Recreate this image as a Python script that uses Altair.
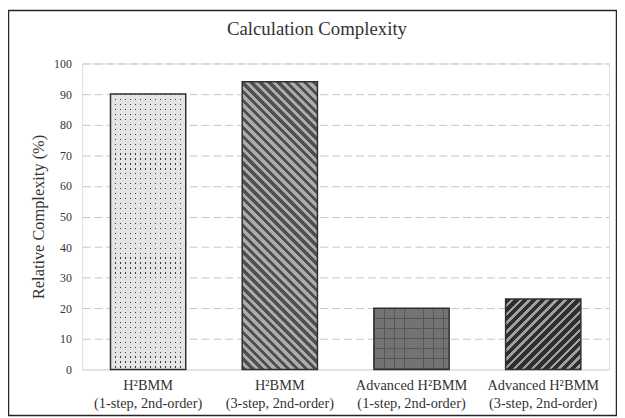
import altair as alt
import pandas as pd

# ---- data ----
title_text = "Calculation Complexity"
categories = [
    "H²BMM\n(1-step, 2nd-order)",
    "H²BMM\n(3-step, 2nd-order)",
    "Advanced H²BMM\n(1-step, 2nd-order)",
    "Advanced H²BMM\n(3-step, 2nd-order)",
]
values = [90, 94, 20, 23]
y_ticks = list(range(0, 101, 10))

# ---- layout ----
W, H = 532, 309
BAR = 76
SERIF = "Liberation Serif"

df = pd.DataFrame({"idx": list(range(len(categories))), "cat": categories, "val": values})


def stops_for(segments, span):
    stops = []
    pos = 0.0
    while pos < span:
        for color, wid in segments:
            a = min(pos / span, 1.0)
            b = min((pos + wid) / span, 1.0)
            stops.append({"offset": round(a, 5), "color": color})
            stops.append({"offset": round(b, 5), "color": color})
            pos += wid
    return stops


def diag_grad(segments, w, h, direction):
    k = (w + h) / (w * w + h * h)
    if direction == "back":  # "\" stripes
        x1, y1, x2, y2 = 0, 1, w * k, 1 - h * k
    else:  # "/" stripes
        x1, y1, x2, y2 = 0, 0, w * k, h * k
    return {"gradient": "linear", "x1": x1, "y1": y1, "x2": x2, "y2": y2,
            "stops": stops_for(segments, w + h)}


def horiz_grad(segments, w):  # varies along x -> vertical lines
    return {"gradient": "linear", "x1": 0, "y1": 0, "x2": 1, "y2": 0,
            "stops": stops_for(segments, w)}


def vert_grad(segments, h):  # varies along y -> horizontal lines
    return {"gradient": "linear", "x1": 0, "y1": 0, "x2": 0, "y2": 1,
            "stops": stops_for(segments, h)}


T = "rgba(0,0,0,0)"
heights = [v / 100 * H for v in values]

base = alt.Chart(df).encode(
    x=alt.X("cat:N", sort=categories,
            scale=alt.Scale(domain=categories, paddingInner=0, paddingOuter=0),
            axis=alt.Axis(title=None, labelAngle=0, ticks=False, grid=False,
                          domainColor="#d9d9d9", domainWidth=1,
                          labelExpr="split(datum.label, '\\n')",
                          labelFont=SERIF, labelFontSize=14.5, labelLineHeight=18,
                          labelColor="#333333", labelPadding=9)),
    y=alt.Y("val:Q", scale=alt.Scale(domain=[0, 100]),
            axis=alt.Axis(title="Relative Complexity (%)", values=y_ticks,
                          ticks=False, domain=False, grid=True,
                          gridColor="#c4c4c4", gridDash=[8, 4], gridWidth=1,
                          gridOpacity={"condition": {"test": "datum.value === 0", "value": 0}, "value": 1},
                          labelFont=SERIF, labelFontSize=12, labelColor="#333333",
                          labelPadding=11,
                          titleFont=SERIF, titleFontSize=16.5, titleFontWeight="normal",
                          titleColor="#333333", titleX=-44, titleY=H / 2,
                          titleAngle=-90, titleAlign="center", titleBaseline="middle")),
)


def one(i):
    return base.transform_filter(alt.datum.idx == i)


layers = []

# bar 1: dotted light gray
layers.append(one(0).mark_bar(size=BAR, fill="#e4e4e4"))
layers.append(one(0).mark_bar(size=BAR, fill=horiz_grad([("#3a3a3a", 1), (T, 4)], BAR)))
layers.append(one(0).mark_bar(size=BAR, fill=vert_grad([(T, 1.2), ("#e4e4e4", 3.8)], heights[0])))

# bar 2: "\" stripes
layers.append(one(1).mark_bar(size=BAR, fill=diag_grad([("#505050", 4.5), ("#ababab", 4.5)], BAR, heights[1], "back")))

# bar 3: gray grid
layers.append(one(2).mark_bar(size=BAR, fill="#737373"))
layers.append(one(2).mark_bar(size=BAR, fill=horiz_grad([("#555555", 1), (T, 9)], BAR)))
layers.append(one(2).mark_bar(size=BAR, fill=vert_grad([("#555555", 1), (T, 9)], heights[2])))

# bar 4: "/" stripes dark
layers.append(one(3).mark_bar(size=BAR, fill=diag_grad([("#2e2e2e", 5.5), ("#a0a0a0", 3.5)], BAR, heights[3], "fwd")))

# outlines
layers.append(base.mark_bar(size=BAR, fillOpacity=0, stroke="#303030", strokeWidth=1.5))

# chart title as text
title = alt.Chart(pd.DataFrame({"t": [title_text]})).mark_text(
    font=SERIF, fontSize=19, color="#333333", align="center", baseline="alphabetic"
).encode(text="t:N", x=alt.value(237), y=alt.value(-29))

# outer frame
frame = alt.Chart(pd.DataFrame({"d": [0]})).mark_rect(
    fillOpacity=0, stroke="#262626", strokeWidth=1.5
).encode(x=alt.value(-74.5), x2=alt.value(W + 7.5), y=alt.value(-53.5), y2=alt.value(H + 46.5))

chart = alt.layer(*layers, title, frame).properties(
    width=W, height=H,
    autosize=alt.AutoSizeParams(type="none"),
    padding={"left": 75, "top": 54, "right": 8, "bottom": 47},
).configure_view(stroke="transparent", strokeOpacity=0, strokeWidth=0).configure(background="white")

chart.save("out.html", embed_options={"renderer": "svg", "actions": False})
